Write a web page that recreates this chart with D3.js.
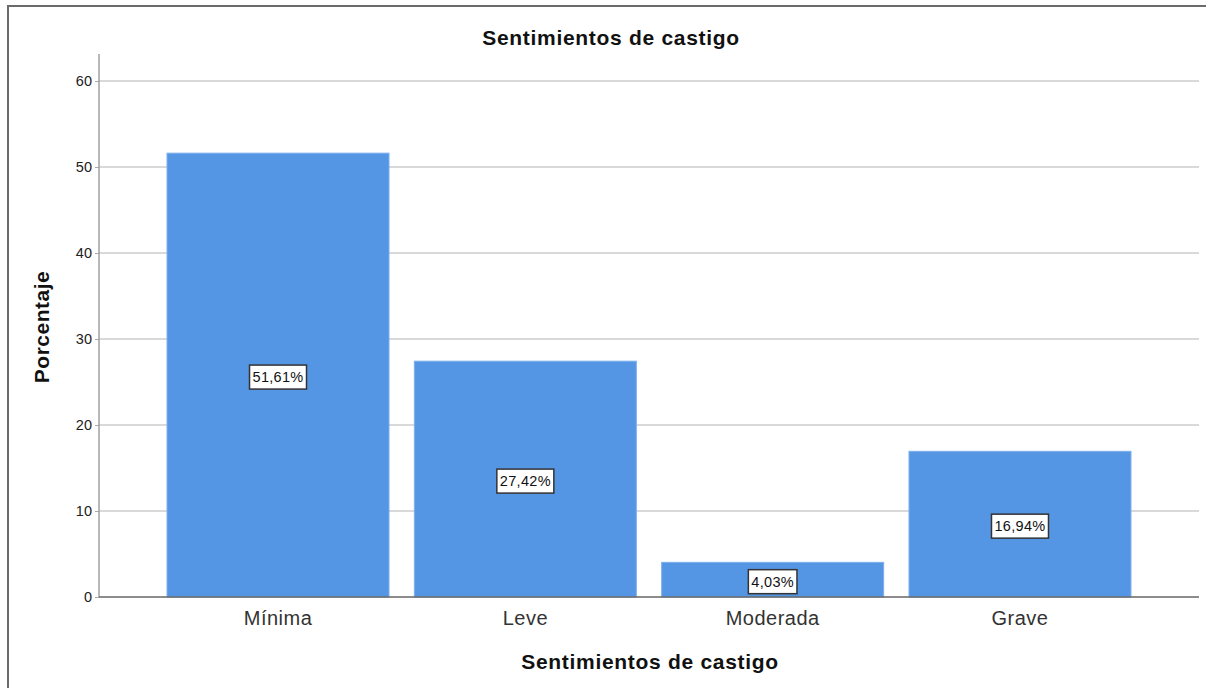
<!DOCTYPE html>
<html><head><meta charset="utf-8">
<script src="https://cdn.jsdelivr.net/npm/d3@7"></script>
<style>body{margin:0;background:#fff}svg{display:block;font-family:"Liberation Sans",Arial,sans-serif}</style>
</head><body>
<svg id="c" width="1206" height="688"></svg>
<script>
const categories = ["Mínima", "Leve", "Moderada", "Grave"];
const values = [51.61, 27.42, 4.03, 16.94];
const valueLabels = ["51,61%", "27,42%", "4,03%", "16,94%"];
const yTicks = [0, 10, 20, 30, 40, 50, 60];
const title = "Sentimientos de castigo";
const xTitle = "Sentimientos de castigo";
const yTitle = "Porcentaje";

const svg = d3.select("#c");
// frame
svg.append("rect").attr("x", 8).attr("y", 6).attr("width", 1205).attr("height", 700)
  .attr("fill", "none").attr("stroke", "#6b6b6b").attr("stroke-width", 2);

const x0 = 99, x1 = 1199, yBot = 597, yTop = 54;
const y = d3.scaleLinear().domain([0, 60]).range([yBot, 81]);
const x = d3.scaleBand().domain(categories).range([x0, x1]).paddingInner(0.1024).paddingOuter(0.275);

// grid
svg.append("g").selectAll("line").data(yTicks.filter(d => d > 0)).join("line")
  .attr("x1", x0).attr("x2", x1).attr("y1", d => y(d)).attr("y2", d => y(d))
  .attr("stroke", "#d9d9d9").attr("stroke-width", 2);

// y axis
const ya = svg.append("g").attr("transform", `translate(${x0},0)`)
  .call(d3.axisLeft(y).tickValues(yTicks).tickSize(4).tickPadding(3));
ya.select(".domain").remove();
ya.selectAll(".tick line").attr("stroke", "#aaa");
ya.selectAll(".tick text").attr("font-size", 14.5).attr("fill", "#222").attr("font-family", "Liberation Sans, Arial");
svg.append("line").attr("x1", x0).attr("x2", x0).attr("y1", yTop).attr("y2", yBot)
  .attr("stroke", "#a0a0a0").attr("stroke-width", 1.5);

// bars
svg.append("g").selectAll("rect").data(values).join("rect")
  .attr("x", (d, i) => x(categories[i])).attr("width", x.bandwidth())
  .attr("y", d => y(d)).attr("height", d => yBot - y(d))
  .attr("fill", "#5596e4").attr("stroke", "#7db0ee").attr("stroke-width", 1);

// x axis line
svg.append("line").attr("x1", x0).attr("x2", x1).attr("y1", yBot).attr("y2", yBot)
  .attr("stroke", "#666").attr("stroke-width", 1.5);

// category labels
svg.append("g").selectAll("text").data(categories).join("text")
  .attr("x", d => x(d) + x.bandwidth() / 2).attr("y", 625)
  .attr("text-anchor", "middle").attr("font-size", 20).attr("letter-spacing", 0.5)
  .attr("fill", "#333").text(d => d);

// value labels
const lg = svg.append("g").selectAll("g").data(values).join("g")
  .attr("transform", (d, i) => `translate(${x(categories[i]) + x.bandwidth() / 2},${(y(d) + yBot) / 2 + 2})`);
lg.append("text").attr("text-anchor", "middle").attr("dy", "0.36em").attr("font-size", 14.5)
  .attr("letter-spacing", 0.3).attr("fill", "#111").text((d, i) => valueLabels[i]);
lg.each(function() {
  const g = d3.select(this);
  const bb = g.select("text").node().getBBox();
  g.insert("rect", "text").attr("x", bb.x - 3).attr("y", -12).attr("width", bb.width + 6).attr("height", 24)
    .attr("fill", "#fff").attr("stroke", "#333").attr("stroke-width", 1.5);
});

// titles
svg.append("text").attr("x", 611).attr("y", 45).attr("text-anchor", "middle")
  .attr("font-size", 21).attr("letter-spacing", 0.7).attr("font-weight", "bold").attr("fill", "#111").text(title);
svg.append("text").attr("x", 650).attr("y", 669).attr("text-anchor", "middle")
  .attr("font-size", 21).attr("letter-spacing", 0.7).attr("font-weight", "bold").attr("fill", "#111").text(xTitle);
svg.append("text").attr("transform", "translate(49,327) rotate(-90)").attr("text-anchor", "middle")
  .attr("font-size", 21).attr("letter-spacing", 0.5).attr("font-weight", "bold").attr("fill", "#111").text(yTitle);
</script>
</body></html>
